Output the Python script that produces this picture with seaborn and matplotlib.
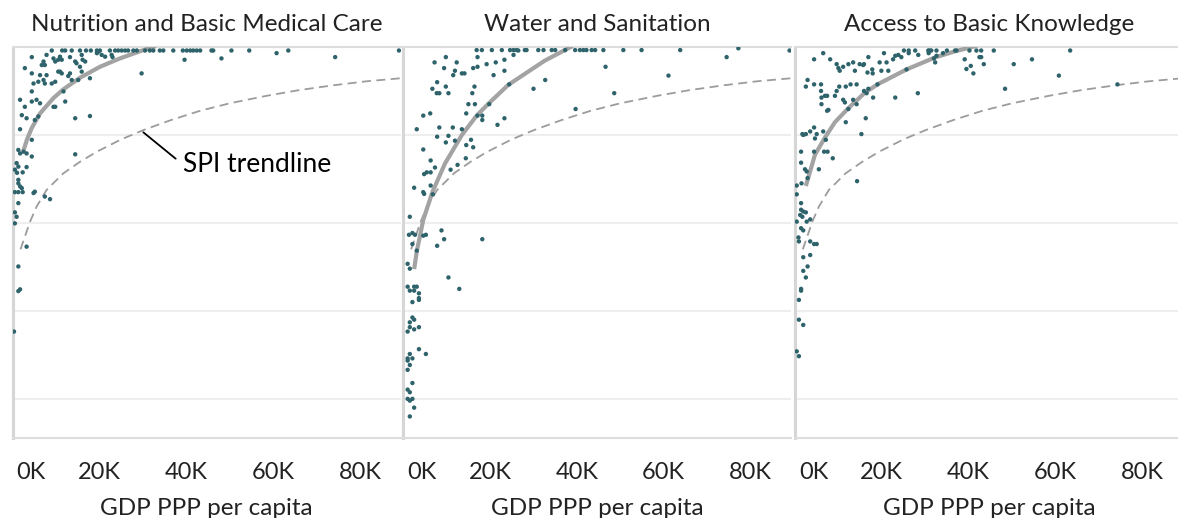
import matplotlib
matplotlib.use("Agg")
import matplotlib.pyplot as plt
import matplotlib.transforms as mtransforms
import seaborn as sns
import pandas as pd

# ---------------- text ----------------
titles = ["Nutrition and Basic Medical Care", "Water and Sanitation", "Access to Basic Knowledge"]
x_label = "GDP PPP per capita"
tick_values = [0, 20, 40, 60, 80]
tick_labels = ["0K", "20K", "40K", "60K", "80K"]
minor_tick_values = [10, 30, 50, 70]
grid_values = [20, 40, 60, 80]
annotation_text = "SPI trendline"

# ---------------- data (GDP in thousands, score) ----------------
nutrition_gdp = [
    9.0, 11.4, 12.1, 13.6, 15.5, 16.9, 18.0, 19.4, 20.1, 22.4, 23.6, 24.3, 25.1, 25.9, 26.6, 27.8, 28.6, 30.5,
    31.6, 32.4, 33.9, 34.7, 37.0, 39.2, 40.1, 40.9, 41.6, 42.4, 43.2, 45.8, 46.2, 50.4, 54.5, 63.5, 89.0,
    19.4, 19.7, 20.5, 21.3, 22.8, 23.0, 60.8, 74.3, 39.6, 48.1,
    4.4, 7.8, 9.4, 9.8, 10.5, 10.9, 11.3, 13.2, 14.4, 15.9, 16.1, 16.7, 14.7, 7.1, 6.7, 7.4,
    2.8, 4.4, 6.3, 7.8, 7.1, 10.5, 11.3, 10.9, 13.2, 12.8, 15.5, 15.9, 17.8, 15.1, 13.6,
    4.8, 5.9, 7.4, 9.0, 9.8, 4.4, 11.7,
    1.7, 2.8, 4.4, 5.5, 6.3, 9.8, 9.4, 12.1,
    2.1, 3.2, 5.1, 5.9, 14.4, 17.8, 1.7, 4.4, 29.7,
    1.3, 1.7, 2.5, 3.2, 4.4, 14.4, 0.9, 1.3, 3.2, 0.5, 2.3, 1.0, 1.3,
    1.3, 1.7, 2.1, 0.5, 1.3, 2.3, 4.8, 5.1, 7.4, 8.6, 1.3, 0.5, 0.9, 0.5,
    3.2, 1.3, 1.3, 1.7, 0.3,
]
nutrition_score = [
    99.2, 99.2, 99.2, 99.2, 99.2, 99.2, 99.2, 99.2, 99.2, 99.2, 99.2, 99.2, 99.2, 99.2, 99.2, 99.2, 99.2, 99.2,
    99.2, 99.2, 99.2, 99.2, 99.2, 99.2, 99.2, 99.2, 99.2, 99.2, 99.2, 99.2, 99.2, 99.2, 99.2, 99.2, 99.2,
    98.6, 98.9, 98.2, 97.8, 98.2, 97.7, 98.6, 97.7, 97.1, 97.4,
    97.7, 98.2, 97.4, 96.7, 97.1, 97.8, 97.1, 97.7, 96.7, 98.2, 97.1, 96.7, 96.3, 96.7, 95.9, 95.9,
    95.2, 94.0, 93.6, 93.6, 92.5, 94.4, 94.0, 94.4, 94.0, 93.4, 95.5, 94.4, 92.9, 92.5, 92.5,
    91.7, 92.1, 91.7, 91.7, 92.1, 89.9, 89.9,
    88.0, 86.4, 87.6, 88.0, 87.2, 86.4, 86.4, 87.6,
    84.5, 83.8, 83.4, 84.2, 83.8, 84.3, 81.3, 78.9, 94.0,
    76.6, 75.8, 76.2, 75.8, 75.1, 75.6, 73.6, 72.8, 72.7, 72.1, 71.5, 71.4, 69.0,
    69.8, 68.3, 67.9, 67.0, 67.0, 67.0, 66.8, 67.1, 66.0, 65.4, 64.5, 62.4, 61.4, 59.9,
    54.6, 50.1, 44.5, 44.9, 35.3,
]

water_gdp = [
    16.9, 18.1, 20.4, 22.7, 24.6, 25.4, 26.1, 28.0, 28.4, 31.1, 32.3, 34.2, 35.0, 37.3, 39.6, 40.7, 41.5,
    42.2, 43.4, 44.2, 46.1, 50.7, 54.9, 63.8, 77.2, 89.0,
    7.2, 9.8, 12.3, 9.4, 11.9, 11.5, 13.5, 14.1, 16.1, 17.1,
    17.1, 19.2, 21.3, 23.3, 23.3, 20.8, 25.4, 26.5, 46.6, 61.1,
    74.5, 32.7, 30.0, 24.4, 7.8, 6.7, 7.7, 8.3, 9.8, 10.4,
    16.4, 15.9, 15.0, 16.5, 19.8, 14.5, 17.1, 18.2, 18.2, 23.3,
    21.7, 4.6, 6.2, 3.1, 8.3, 7.8, 10.4, 9.8, 11.4, 11.9,
    13.5, 14.5, 15.6, 16.1, 14.4, 12.5, 10.9, 4.6, 6.3, 7.3,
    6.3, 4.8, 5.4, 6.3, 2.5, 4.6, 4.8, 6.8, 39.7, 48.6,
    1.5, 1.3, 2.1, 2.7, 4.6, 5.2, 8.8, 9.4, 7.8, 18.2,
    2.1, 3.1, 1.0, 1.5, 10.4, 12.9, 1.0, 1.5, 2.5, 2.5,
    3.1, 3.6, 3.6, 3.6, 2.1, 2.1, 2.5, 1.5, 1.5, 1.0,
    2.5, 3.6, 3.6, 5.2, 1.5, 1.0, 1.0, 2.1, 1.5, 1.0,
    2.1, 1.0, 1.5, 1.0, 1.5, 2.1, 2.5, 1.5,
]
water_score = [
    99.3, 99.3, 99.3, 99.3, 99.3, 99.3, 99.3, 99.3, 99.3, 99.3, 99.3, 99.3, 99.3, 99.3, 99.3, 99.3, 99.3,
    99.3, 99.3, 99.3, 99.3, 99.3, 99.3, 99.3, 99.7, 99.2,
    96.5, 97.7, 96.5, 95.2, 94.6, 93.6, 94.0, 94.0, 95.2, 95.5,
    97.7, 96.1, 96.5, 97.1, 94.6, 93.6, 98.2, 99.2, 95.5, 93.5,
    97.7, 92.5, 90.5, 91.5, 92.0, 90.5, 89.5, 89.5, 91.0, 89.5,
    91.0, 89.5, 87.0, 87.0, 87.0, 84.9, 84.4, 84.4, 83.4, 83.8,
    82.3, 84.4, 84.9, 81.3, 81.7, 79.6, 79.8, 78.3, 81.7, 78.7,
    81.3, 77.7, 78.9, 77.2, 74.7, 73.2, 72.1, 76.7, 74.2, 72.6,
    71.5, 71.1, 71.5, 68.5, 68.0, 67.0, 66.6, 66.5, 85.9, 89.5,
    61.4, 57.3, 57.7, 57.3, 57.1, 57.3, 58.3, 56.3, 54.8, 56.3,
    55.2, 53.7, 50.7, 49.6, 47.6, 45.0, 45.5, 44.6, 44.6, 45.5,
    45.5, 44.0, 42.9, 42.5, 42.0, 38.5, 38.0, 37.4, 36.3, 35.3,
    35.8, 36.3, 31.3, 30.2, 30.2, 29.2, 28.7, 29.2, 27.7, 26.6,
    23.6, 22.1, 21.5, 20.0, 19.6, 20.0, 18.0, 16.0,
]

knowledge_gdp = [
    25.1, 26.2, 27.7, 30.7, 31.0, 31.4, 32.6, 35.0, 36.9, 37.2, 40.2, 41.8, 42.9, 45.8, 63.4,
    4.4, 6.5, 8.1, 9.6, 10.0, 10.3, 11.1, 12.3, 13.4, 13.8,
    14.9, 15.7, 15.9, 16.9, 16.7, 17.8, 17.9, 19.5, 20.5, 21.1,
    19.9, 21.5, 22.6, 23.1, 23.8, 24.5, 26.2, 28.4, 30.8, 32.0,
    32.3, 32.6, 34.1, 39.1, 40.5, 39.5, 41.1, 42.5, 42.9, 43.5,
    50.4, 54.6, 60.8, 74.3, 48.4, 28.3, 23.1, 25.7, 19.0, 16.9,
    15.9, 18.0, 16.5, 2.5, 4.4, 6.0, 2.9, 6.0, 6.1, 6.9,
    7.4, 9.2, 9.6, 10.2, 11.7, 12.8, 14.2, 11.1, 11.5, 13.4,
    14.2, 12.3, 7.7, 7.4, 6.1, 11.7, 16.3, 15.3, 1.7, 1.9,
    2.5, 3.5, 4.4, 5.0, 4.6, 6.5, 7.1, 6.7, 7.5, 8.7,
    4.4, 1.4, 1.4, 2.3, 2.7, 2.9, 5.5, 1.5, 0.4, 0.4,
    1.4, 1.4, 1.9, 1.2, 1.7, 2.5, 2.7, 3.5, 0.4, 1.4,
    1.9, 0.8, 14.3, 0.9, 3.5, 4.4, 5.0, 1.9, 3.5, 1.9,
    2.9, 2.5, 1.4, 1.4, 0.9, 0.9, 1.9, 0.4, 0.9,
]
knowledge_score = [
    99.2, 99.2, 99.2, 99.2, 99.2, 99.2, 99.2, 99.2, 99.2, 99.2, 99.2, 99.2, 99.2, 99.2, 99.2,
    97.2, 98.6, 97.2, 96.1, 95.2, 94.6, 95.5, 96.1, 96.5, 94.6,
    96.1, 95.9, 96.1, 97.7, 94.2, 94.9, 94.0, 96.5, 98.6, 96.5,
    94.6, 94.6, 97.2, 98.0, 98.2, 97.7, 98.6, 98.2, 98.6, 97.4,
    96.5, 98.0, 98.6, 97.2, 95.7, 95.0, 94.0, 97.7, 97.7, 96.1,
    96.1, 97.2, 93.5, 91.5, 90.5, 89.5, 88.5, 94.9, 91.5, 90.5,
    90.0, 88.5, 89.5, 91.0, 91.5, 91.5, 92.5, 90.0, 88.5, 88.9,
    88.9, 88.9, 90.0, 91.0, 91.0, 91.5, 91.5, 88.0, 87.4, 88.0,
    87.0, 85.9, 85.7, 85.5, 87.0, 82.9, 83.8, 80.2, 80.2, 80.0,
    80.2, 80.8, 81.7, 80.2, 79.2, 80.8, 78.9, 76.2, 76.2, 74.7,
    76.2, 76.2, 73.7, 72.2, 71.7, 70.2, 72.2, 69.0, 68.5, 66.5,
    64.5, 63.0, 62.6, 61.8, 61.4, 62.4, 60.3, 60.8, 60.3, 58.8,
    58.3, 56.7, 69.5, 55.8, 55.8, 55.2, 55.2, 52.2, 52.7, 49.1,
    50.1, 47.6, 45.0, 44.6, 42.5, 38.0, 36.8, 30.8, 29.7,
]

# component trendlines
nutrition_trend_gdp = [2.4, 3.3, 4.4, 6.3, 9.4, 11.7, 15.5, 20.1, 24.7, 30.1, 33.0]
nutrition_trend_score = [76.2, 79.0, 81.6, 84.9, 88.4, 90.4, 93.0, 95.5, 97.4, 99.3, 100.2]
water_trend_gdp = [2.5, 3.1, 4.6, 6.7, 9.6, 13.5, 16.9, 19.6, 24.2, 32.6, 38.0, 39.0]
water_trend_score = [49.5, 53.5, 60.7, 67.0, 73.5, 80.0, 84.4, 87.1, 91.4, 96.9, 99.7, 100.2]
knowledge_trend_gdp = [2.5, 4.6, 6.9, 9.2, 12.3, 16.1, 19.2, 25.7, 32.2, 36.8, 42.0]
knowledge_trend_score = [68.4, 75.5, 79.4, 82.9, 86.1, 89.6, 91.6, 94.9, 97.6, 99.0, 100.3]

# overall SPI trendline (same in every panel)
spi_trend_gdp = [1.8, 2.5, 3.2, 4.0, 5.5, 7.8, 11.7, 15.5, 19.4, 25.0, 30.1, 36.5, 43.2, 50.0, 58.5,
                 66.0, 73.9, 81.5, 89.4]
spi_trend_score = [54.0, 56.0, 58.0, 60.3, 63.7, 67.5, 71.3, 73.9, 76.2, 79.0, 81.1, 83.4, 85.5, 87.2, 88.9,
                   90.2, 91.3, 92.2, 92.9]

panels = [
    (nutrition_gdp, nutrition_score, nutrition_trend_gdp, nutrition_trend_score),
    (water_gdp, water_score, water_trend_gdp, water_trend_score),
    (knowledge_gdp, knowledge_score, knowledge_trend_gdp, knowledge_trend_score),
]

# ---------------- style ----------------
sns.set_theme(style="white")
plt.rcParams["font.family"] = ["Lato", "DejaVu Sans"]

POINT = "#2f636b"
TREND = "#a3a3a3"
SPI = "#9c9c9c"
AXIS = "#d6d6d6"
GRID = "#eeeeee"
TEXT = "#222222"
FS = 17.5

W, H = 1178, 518
fig = plt.figure(figsize=(W / 100, H / 100), dpi=100)
fig.patch.set_facecolor("white")

ax_lefts = [12.7, 403.3, 795.0]
ax_w, ax_top, ax_bottom = 388.0, 47.0, 438.0

for i, (gdp, score, tg, ts) in enumerate(panels):
    ax = fig.add_axes([ax_lefts[i] / W, (H - ax_bottom) / H, ax_w / W, (ax_bottom - ax_top) / H])
    ax.set_facecolor("white")

    sns.lineplot(x=spi_trend_gdp, y=spi_trend_score, ax=ax, color=SPI, lw=1.3,
                 estimator=None, sort=False, zorder=2)
    ax.lines[-1].set_dashes([5, 3])
    sns.lineplot(x=tg, y=ts, ax=ax, color=TREND, lw=3.0, estimator=None, sort=False, zorder=3,
                 solid_capstyle="butt")
    sns.scatterplot(x=gdp, y=score, ax=ax, color=POINT, s=10, edgecolor="none", linewidth=0,
                    zorder=4)

    ax.set_yticks(grid_values)
    ax.set_yticklabels([])
    ax.tick_params(axis="y", length=0)
    ax.yaxis.grid(True, color=GRID, lw=1.5)
    ax.xaxis.grid(False)
    ax.set_axisbelow(True)

    ax.set_xticks(tick_values)
    ax.set_xticklabels(tick_labels)
    ax.set_xticks(minor_tick_values, minor=True)
    ax.tick_params(axis="x", which="both", direction="out", length=7, width=1.5, color=AXIS,
                   labelsize=17, labelcolor=TEXT, pad=10)
    first = ax.get_xticklabels()[0]
    first.set_horizontalalignment("left")
    first.set_transform(first.get_transform() + mtransforms.ScaledTranslation(4 / 100, 0, fig.dpi_scale_trans))

    ax.set_xlim(0, ax_w / 4.34)
    ax.set_ylim(11.1, 100)

    for side in ["top", "bottom"]:
        ax.spines[side].set_color("#dddddd")
        ax.spines[side].set_linewidth(1.5)
    ax.spines["left"].set_color(AXIS)
    ax.spines["left"].set_linewidth(2.2)
    ax.spines["right"].set_visible(False)

    ax.set_xlabel(x_label, fontsize=FS, color=TEXT, labelpad=11)
    ax.set_ylabel("")
    ax.set_title(titles[i], fontsize=FS, color=TEXT, pad=11.5)

    if i == 0:
        ax.annotate(annotation_text, xy=(30.1, 80.6), xytext=(39.3, 73.2),
                    fontsize=19, color="black", ha="left", va="center",
                    arrowprops=dict(arrowstyle="-", color="black", lw=1.3,
                                    shrinkA=4, shrinkB=0, relpos=(0, 0.5)))

fig.savefig("out.png", dpi=100, facecolor="white")
